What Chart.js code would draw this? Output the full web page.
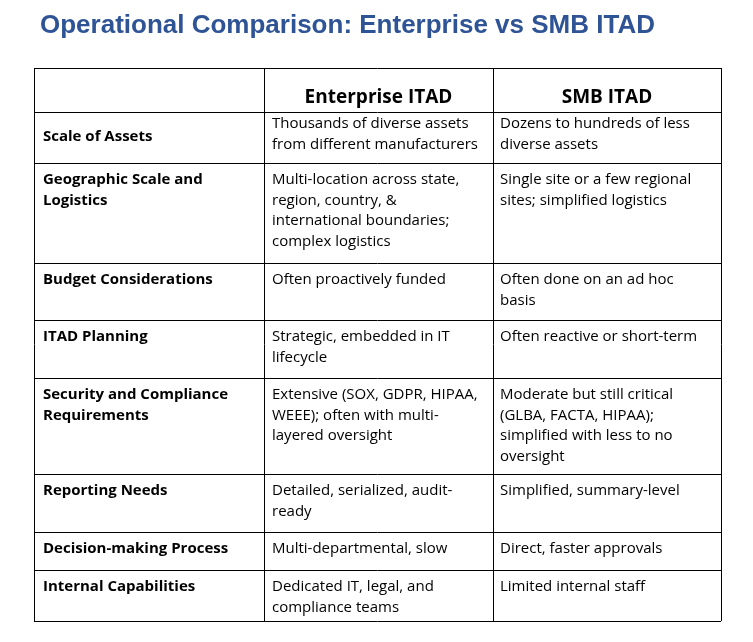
<!DOCTYPE html>
<html>
<head>
<meta charset="utf-8">
<script src="https://cdn.jsdelivr.net/npm/chart.js@4"></script>
<style>
  body { margin: 0; background: #fff; }
</style>
</head>
<body>
<canvas id="myChart" width="753" height="642"></canvas>
<script>
const title = "Operational Comparison: Enterprise vs SMB ITAD";
const columns = ["", "Enterprise ITAD", "SMB ITAD"];
const categories = [
    "Scale of Assets",
    "Geographic Scale and\nLogistics",
    "Budget Considerations",
    "ITAD Planning",
    "Security and Compliance\nRequirements",
    "Reporting Needs",
    "Decision-making Process",
    "Internal Capabilities"
];
const enterprise = [
    "Thousands of diverse assets\nfrom different manufacturers",
    "Multi-location across state,\nregion, country, &\ninternational boundaries;\ncomplex logistics",
    "Often proactively funded",
    "Strategic, embedded in IT\nlifecycle",
    "Extensive (SOX, GDPR, HIPAA,\nWEEE); often with multi-\nlayered oversight",
    "Detailed, serialized, audit-\nready",
    "Multi-departmental, slow",
    "Dedicated IT, legal, and\ncompliance teams"
];
const smb = [
    "Dozens to hundreds of less\ndiverse assets",
    "Single site or a few regional\nsites; simplified logistics",
    "Often done on an ad hoc\nbasis",
    "Often reactive or short-term",
    "Moderate but still critical\n(GLBA, FACTA, HIPAA);\nsimplified with less to no\noversight",
    "Simplified, summary-level",
    "Direct, faster approvals",
    "Limited internal staff"
];

// layout
const colX = [34, 264, 493, 721];
const rowY = [68, 112, 163, 263, 320, 378, 474, 532, 570, 621];

const tablePlugin = {
    id: "table",
    afterDraw(chart) {
        const ctx = chart.ctx;
        ctx.save();
        ctx.fillStyle = "#2F5496";
        ctx.font = "bold 26px 'Liberation Sans', Arial, sans-serif";
        ctx.textBaseline = "middle";
        ctx.fillText(title, 40, 26);

        ctx.strokeStyle = "#000";
        ctx.lineWidth = 1;
        rowY.forEach(y => {
            ctx.beginPath(); ctx.moveTo(colX[0], y + 0.5); ctx.lineTo(colX[3], y + 0.5); ctx.stroke();
        });
        colX.forEach(x => {
            ctx.beginPath(); ctx.moveTo(x + 0.5, rowY[0]); ctx.lineTo(x + 0.5, rowY[rowY.length - 1]); ctx.stroke();
        });

        ctx.fillStyle = "#000";
        ctx.textAlign = "center";
        ctx.font = "bold 19px 'Open Sans', 'Noto Sans', sans-serif";
        for (let c = 1; c < 3; c++) {
            ctx.fillText(columns[c], (colX[c] + colX[c + 1]) / 2, 98);
        }

        ctx.textAlign = "left";
        const lh = 20.5;
        categories.forEach((cat, i) => {
            const top = rowY[i + 1];
            const labelOff = i === 0 ? 25 : 17;
            const cellOff = i === 0 ? 12 : 17;
            ctx.font = "bold 15px 'Open Sans', 'Noto Sans', sans-serif";
            cat.split("\n").forEach((t, k) => ctx.fillText(t, 43, top + labelOff + k * lh));
            ctx.font = "15px 'Open Sans', 'Noto Sans', sans-serif";
            enterprise[i].split("\n").forEach((t, k) => ctx.fillText(t, 272, top + cellOff + k * lh));
            smb[i].split("\n").forEach((t, k) => ctx.fillText(t, 500, top + cellOff + k * lh));
        });
        ctx.restore();
    }
};

new Chart(document.getElementById("myChart").getContext("2d"), {
    type: "bar",
    data: { labels: categories, datasets: [] },
    options: {
        responsive: false,
        animation: false,
        devicePixelRatio: 1,
        plugins: { legend: { display: false }, tooltip: { enabled: false } },
        scales: { x: { display: false }, y: { display: false } }
    },
    plugins: [tablePlugin]
});
</script>
</body>
</html>
